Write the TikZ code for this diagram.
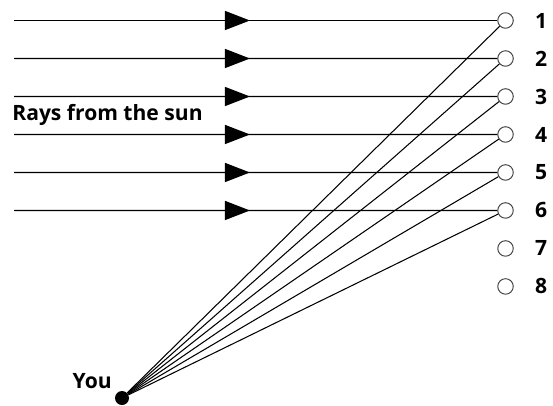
\documentclass[tikz,border=0pt]{standalone}
\usepackage{fontspec}
\setmainfont{Open Sans}
\usetikzlibrary{arrows.meta,positioning,decorations.markings}

\begin{document}
\begin{tikzpicture}[x=0.02cm, y=-0.02cm, node distance=0.76cm, auto]
    \useasboundingbox (0,0) rectangle (553,405);
    % Define styles
    \tikzstyle{hole} = [circle, draw=black!75, line width=0.55pt, minimum size=0.31cm, inner sep=0pt]
    \tikzstyle{num} = [inner sep=0pt, font=\fontsize{12}{14}\selectfont\bfseries]
    \tikzstyle{ray} = [line width=0.8pt, postaction={decorate}, decoration={markings, mark=at position 4.72cm with {\arrow{Triangle[length=0.5cm, width=0.38cm]}}}]
    \tikzstyle{sight} = [line width=0.6pt]

    % Nodes
    \node [hole] (c1) at (505.5,20.5) {};
    \node [hole, below of=c1] (c2) {};
    \node [hole, below of=c2] (c3) {};
    \node [hole, below of=c3] (c4) {};
    \node [hole, below of=c4] (c5) {};
    \node [hole, below of=c5] (c6) {};
    \node [hole, below of=c6] (c7) {};
    \node [hole, below of=c7] (c8) {};

    \node [num, right=0.42cm of c1] (n1) {1};
    \node [num, right=0.42cm of c2] (n2) {2};
    \node [num, right=0.42cm of c3] (n3) {3};
    \node [num, right=0.42cm of c4] (n4) {4};
    \node [num, right=0.42cm of c5] (n5) {5};
    \node [num, right=0.42cm of c6] (n6) {6};
    \node [num, right=0.42cm of c7] (n7) {7};
    \node [num, right=0.42cm of c8] (n8) {8};

    \coordinate (r1) at (14,20.5);
    \coordinate (r2) at (14,58.5);
    \coordinate (r3) at (14,96.5);
    \coordinate (r4) at (14,134.5);
    \coordinate (r5) at (14,172.5);
    \coordinate (r6) at (14,210.5);

    \node [num, anchor=base west] (sun) at (12,121) {Rays from the sun};
    \node [circle, fill=black, inner sep=0pt, minimum size=0.28cm] (you) at (122,398) {};
    \node [num, anchor=base east] (youlabel) at (112,388) {You};

    % Rays
    \draw [ray] (r1) -- (c1);
    \draw [ray] (r2) -- (c2);
    \draw [ray] (r3) -- (c3);
    \draw [ray] (r4) -- (c4);
    \draw [ray] (r5) -- (c5);
    \draw [ray] (r6) -- (c6);

    % Lines of sight
    \draw [sight] (you) -- (c1);
    \draw [sight] (you) -- (c2);
    \draw [sight] (you) -- (c3);
    \draw [sight] (you) -- (c4);
    \draw [sight] (you) -- (c5);
    \draw [sight] (you) -- (c6);
\end{tikzpicture}
\end{document}
